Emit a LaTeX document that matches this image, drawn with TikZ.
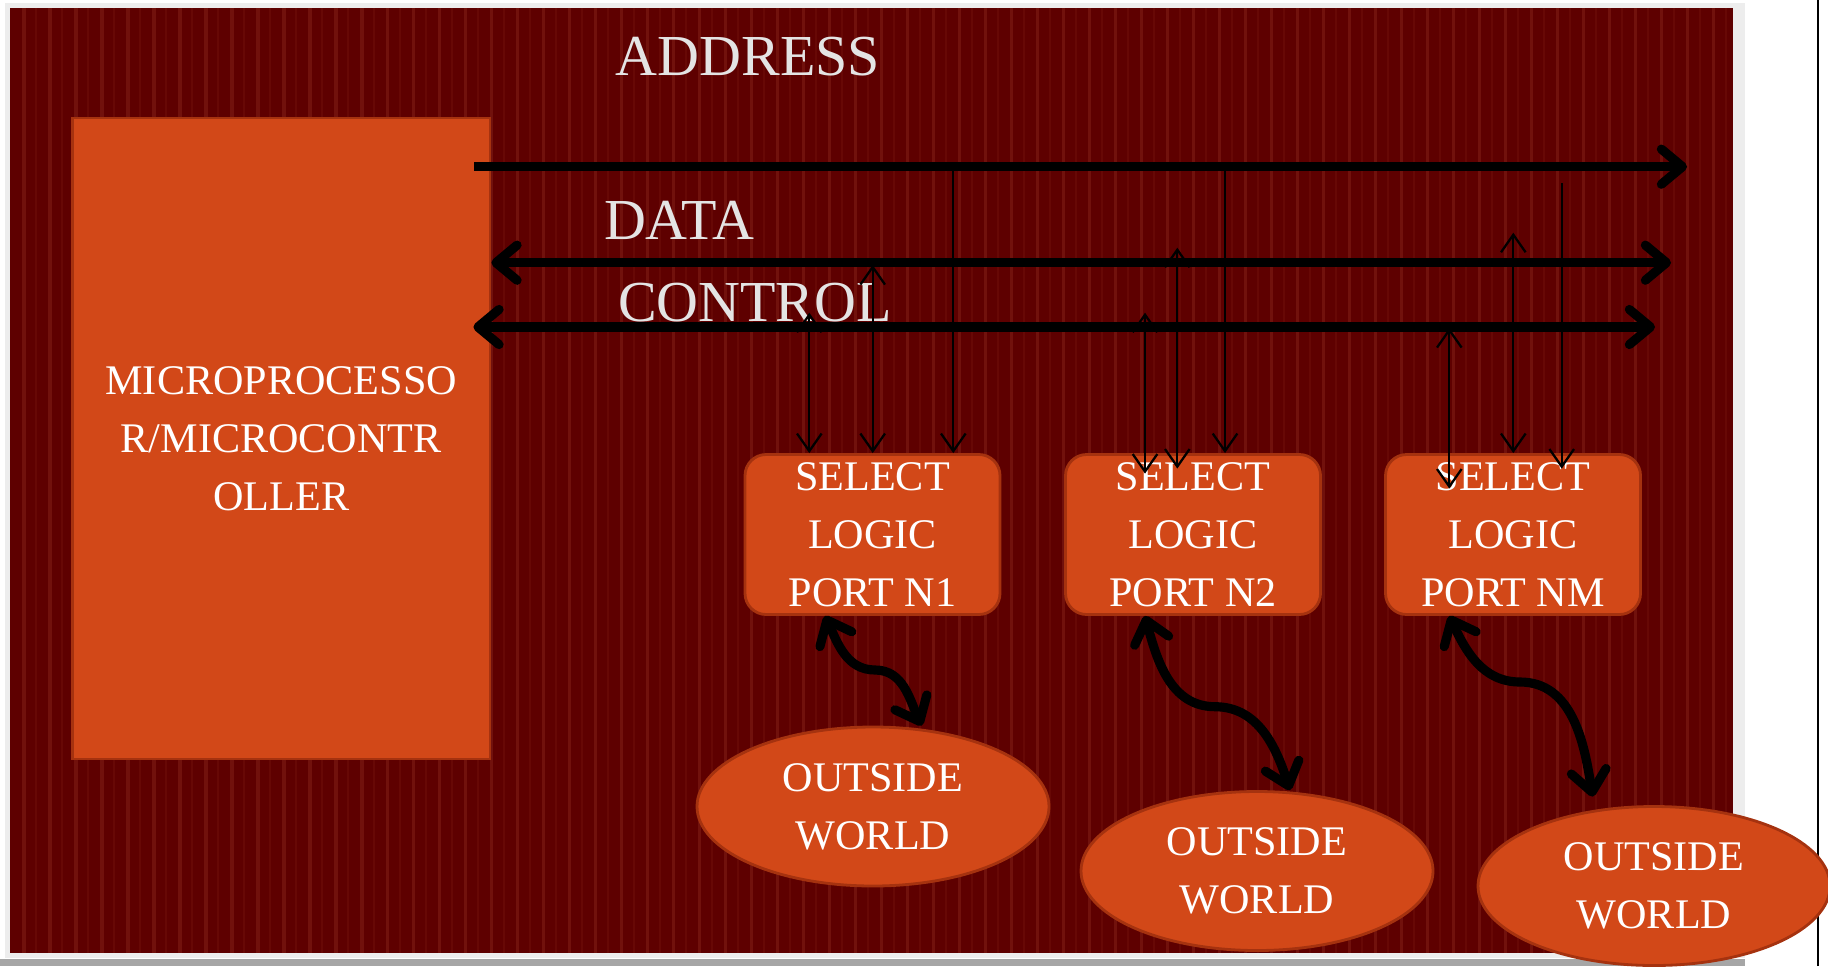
\documentclass[tikz,border=0pt]{standalone}
\usepackage{fontspec}
\setmainfont{Liberation Serif}
\usetikzlibrary{shapes.geometric, arrows.meta, calc}
\definecolor{slidered}{RGB}{94,0,0}
\definecolor{stripered}{RGB}{124,26,18}
\definecolor{blockorange}{RGB}{210,72,24}
\definecolor{blockedge}{RGB}{165,50,15}
\definecolor{labelgrey}{RGB}{228,228,228}

\begin{document}
\begin{tikzpicture}[
  busend/.tip={Straight Barb[length=6pt,width=10pt,round]},
  tapend/.tip={Straight Barb[length=5pt,width=7pt]},
  block/.style={draw=blockedge, line width=0.8pt, fill=blockorange, text=white, align=center, inner sep=0pt, font=\fontsize{12}{16.5}\selectfont},
  port/.style={block, rounded corners=6pt, minimum width=2.55cm, minimum height=1.6cm},
  world/.style={block, ellipse, minimum width=3.52cm, minimum height=1.59cm},
  buslabel/.style={text=labelgrey, anchor=base, inner sep=0pt, font=\fontsize{16.5}{20}\selectfont},
  bus/.style={line width=2.6pt},
  tap/.style={line width=0.65pt}]
 \useasboundingbox (0,0) rectangle (18.28,9.66);
 % slide background with its vertical stripes
 \fill[black!7] (0.05,0.08) rectangle (17.45,9.63);
 \fill[black!35] (0,0) rectangle (17.45,0.07);
 \fill[slidered] (0.105,0.13) rectangle (17.33,9.58);
 \foreach \i in {0,...,65} {
  \fill[stripered!65!slidered] ({0.22+0.26*\i},0.13) rectangle ++(0.035,9.45);
  \fill[stripered!30!slidered] ({0.35+0.26*\i},0.13) rectangle ++(0.02,9.45);
 }
 \draw[line width=0.7pt] (18.18,0) -- (18.18,9.66);

 % processor, ports and outside world
 \node[block, minimum width=4.175cm, minimum height=6.41cm] (mpu) at (2.8125,5.275) {MICROPROCESSO\\R/MICROCONTR\\OLLER};
 \node[port] (sel1) at (8.725,4.315) {SELECT\\LOGIC\\PORT N1};
 \node[port] (sel2) at (11.93,4.315) {SELECT\\LOGIC\\PORT N2};
 \node[port] (sel3) at (15.13,4.315) {SELECT\\LOGIC\\PORT NM};
 \node[world] (out1) at (8.73,1.595) {OUTSIDE\\WORLD};
 \node[world] (out2) at (12.57,0.95) {OUTSIDE\\WORLD};
 \node[world] (out3) at (16.54,0.80) {OUTSIDE\\WORLD};

 % the three buses
 \node[buslabel] (addrlbl) at (7.48,8.91) {ADDRESS};
 \node[buslabel] (datalbl) at (6.79,7.27) {DATA};
 \node[buslabel] (ctrllbl) at (7.55,6.442) {CONTROL};
 \coordinate (addrend) at (16.87,7.993);
 \coordinate (dataend) at (16.71,7.033);
 \coordinate (ctrlend) at (16.55,6.39);
 \draw[bus, -busend] ($(addrend -| mpu.east)+(-0.17,0)$) -- (addrend);
 \draw[bus, busend-busend] (dataend -| mpu.east) -- (dataend);
 \draw[bus, busend-busend] ($(ctrlend -| mpu.east)+(-0.18,0)$) -- (ctrlend);

 % taps from the buses down to the ports
 \coordinate (t1a) at (8.093,6.533);
 \coordinate (t1b) at (8.727,7.01);
 \coordinate (t1c) at (9.533,7.993);
 \coordinate (t2a) at (11.45,6.533);
 \coordinate (t2b) at (11.773,7.183);
 \coordinate (t2c) at (12.25,7.993);
 \coordinate (t3a) at (14.493,6.38);
 \coordinate (t3b) at (15.133,7.333);
 \coordinate (t3c) at (15.617,7.827);
 \draw[tap, tapend-tapend] (t1a) -- (t1a |- sel1.north);
 \draw[tap, tapend-tapend] (t1b) -- (t1b |- sel1.north);
 \draw[tap, -tapend] (t1c) -- (t1c |- sel1.north);
 \draw[tap, tapend-tapend] (t2a) -- ($(t2a |- sel2.north)+(0,-0.205)$);
 \draw[tap, tapend-tapend] (t2b) -- ($(t2b |- sel2.north)+(0,-0.155)$);
 \draw[tap, -tapend] (t2c) -- (t2c |- sel2.north);
 \draw[tap, tapend-tapend] (t3a) -- ($(t3a |- sel3.north)+(0,-0.355)$);
 \draw[tap, tapend-tapend] (t3b) -- (t3b |- sel3.north);
 \draw[tap, -tapend] (t3c) -- ($(t3c |- sel3.north)+(0,-0.155)$);

 % wavy links to the outside world
 \coordinate (w1) at (8.75,2.96);
 \coordinate (w2) at (12.15,2.593);
 \coordinate (w3) at (15.20,2.84);
 \draw[bus, busend-busend] ([xshift=-4.75mm]sel1.south) to[out=-65,in=180] (w1) to[out=0,in=115] ([xshift=4.87mm]out1.north);
 \draw[bus, busend-busend] ([xshift=-4.8mm]sel2.south) to[out=-75,in=180] (w2) to[out=0,in=108] ([xshift=3.3mm]out2.north);
 \draw[bus, busend-busend] ([xshift=-6.37mm]sel3.south) to[out=-65,in=180] (w3) to[out=0,in=99] ([xshift=-6.13mm,yshift=0.85mm]out3.north);
\end{tikzpicture}
\end{document}
